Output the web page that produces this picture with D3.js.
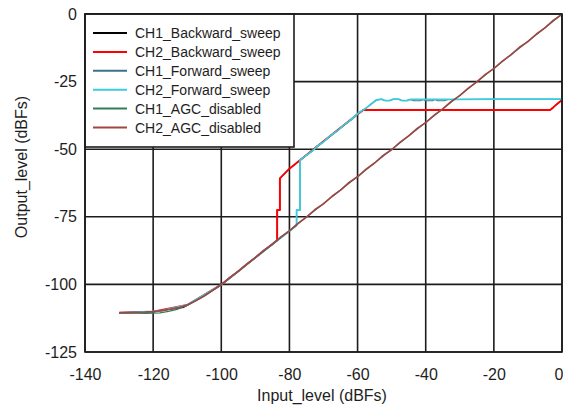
<!DOCTYPE html>
<html><head><meta charset="utf-8">
<script src="https://cdn.jsdelivr.net/npm/d3@7"></script>
<style>body{margin:0;background:#fff}svg{display:block}text{font-family:"Liberation Sans",Arial,sans-serif;fill:#1e1e1e}</style>
</head><body><svg id="c" width="563" height="408"></svg>
<script>
const seriesNames = ["CH1_Backward_sweep","CH2_Backward_sweep","CH1_Forward_sweep","CH2_Forward_sweep","CH1_AGC_disabled","CH2_AGC_disabled"];
const seriesColors = ["#000000","#ff0000","#3d7284","#3ccbdb","#347d58","#a24545"];
const xTicks = [-140,-120,-100,-80,-60,-40,-20,0];
const yTicks = [0,-25,-50,-75,-100,-125];

const ch1Backward = [[-130,-110.6],[-120,-110.1],[-114,-109.0],[-111,-108.5],[-108,-106.3],[-100,-100.1],[-90,-90.1],[-83.6,-83.7],[-83.6,-72.5],[-82.8,-72.5],[-82.8,-60.8],[-80,-57.2],[-58.4,-35.5],[-3.5,-35.5],[-2.8,-35.0],[-2.5,-34.4],[-2,-33.9],[0,-31.8]];
const ch2Backward = [[-130,-110.5],[-120,-110.1],[-110,-107.6],[-100,-100.1],[-90,-90.1],[-83.6,-83.7],[-83.6,-72.5],[-82.8,-72.5],[-82.8,-60.8],[-80,-57.2],[-70,-47.1],[-60,-37.1],[-58.3,-35.5],[-3.5,-35.5],[-2.8,-34.8],[-2,-33.9],[-1,-32.8],[0,-31.8]];
const ch1Forward = [[-130,-110.5],[-120,-110.0],[-117,-109.6],[-110,-107.6],[-100,-100.1],[-90,-90.1],[-77.9,-78.2],[-77.9,-72.5],[-76.9,-72.5],[-76.9,-54.0],[-75,-52.2],[-73,-50.4],[-72,-49.0],[-70,-47.3],[-68,-45.0],[-66,-43.3],[-64,-41.0],[-62,-39.2],[-61,-38.0],[-59.5,-36.4],[-57.5,-34.8],[-56,-33.3],[-54.5,-31.8],[-53,-31.5],[-52,-32.0],[-50.5,-32.0],[-49.5,-31.5],[-48,-31.5],[-47,-32.0],[-45.5,-32.0],[-44.5,-31.6],[-43.5,-32.1],[-41.5,-32.1],[-40.8,-31.6],[-40,-32.1],[-38,-32.1],[-37.3,-31.6],[-36.5,-32.1],[-34.5,-32.1],[-33.5,-31.6],[-33,-31.6],[-31,-31.6],[-20,-31.5],[0,-31.5]];
const ch2Forward = [[-130,-110.5],[-120,-110.0],[-117,-109.6],[-110,-107.6],[-100,-100.1],[-90,-90.1],[-77.9,-78.2],[-77.9,-72.5],[-76.9,-72.5],[-76.9,-54.0],[-75,-52.2],[-73,-50.4],[-72,-49.0],[-70,-47.3],[-68,-45.0],[-66,-43.3],[-64,-41.0],[-62,-39.2],[-61,-38.0],[-59.5,-36.4],[-57.5,-34.8],[-56,-33.3],[-54.5,-31.8],[-53,-31.5],[-52,-32.0],[-50.5,-32.0],[-49.5,-31.5],[-48,-31.5],[-47,-32.0],[-45.5,-32.0],[-44.5,-31.6],[-33,-31.6],[-31,-31.6],[-20,-31.5],[0,-31.5]];
const ch1Agc = [[-130,-110.5],[-126,-110.6],[-122,-110.7],[-118,-110.5],[-115.5,-110.0],[-113,-109.2],[-110,-107.7],[-105,-104.3],[-100,-100.1],[0,-0.1]];
const ch2Agc = [[-130,-110.5],[-127.5,-110.4],[-125,-110.3],[-122.5,-110.2],[-120,-110.0],[-117.5,-109.7],[-115,-109.2],[-112.5,-108.6],[-110,-107.6],[-107.5,-106.1],[-105,-104.3],[-102.5,-102.2],[-100,-100.1],[-97.5,-97.4],[-95,-95.2],[-92.5,-92.4],[-90,-90.1],[-87.5,-87.3],[-85,-85.2],[-82.5,-82.4],[-80,-80.2],[-77.5,-77.4],[-75,-75.1],[-72.5,-72.3],[-70,-70.2],[-67.5,-67.4],[-65,-65.1],[-62.5,-62.3],[-60,-60.2],[-57.5,-57.4],[-55,-55.1],[-52.5,-52.3],[-50,-50.2],[-47.5,-47.4],[-45,-45.1],[-42.5,-42.3],[-40,-40.2],[-37.5,-37.4],[-35,-35.1],[-32.5,-32.3],[-30,-30.2],[-27.5,-27.4],[-25,-25.1],[-22.5,-22.3],[-20,-20.2],[-17.5,-17.4],[-15,-15.1],[-12.5,-12.3],[-10,-10.2],[-7.5,-7.4],[-5,-5.1],[-2.5,-2.3],[0,-0.1]];
const seriesData = [ch1Backward, ch2Backward, ch1Forward, ch2Forward, ch1Agc, ch2Agc];
const seriesWidths = [1.1, 1.9, 1.1, 1.8, 1.3, 1.6];

const L = 85, R = 562, T = 14, B = 352;
const x = d3.scaleLinear().domain([-140,0]).range([L,R]);
const y = d3.scaleLinear().domain([-125,0]).range([B,T]);
const svg = d3.select("#c");
const gridCol = "#1c1c1c";
const fmt = d => String(d);

svg.append("defs").append("clipPath").attr("id","clip").append("rect")
  .attr("x",L).attr("y",T).attr("width",R-L).attr("height",B-T);

// grid
const g = svg.append("g");
g.selectAll(".vx").data(xTicks).join("line")
  .attr("x1",d=>x(d)).attr("x2",d=>x(d)).attr("y1",T).attr("y2",B)
  .attr("stroke",gridCol).attr("stroke-width",1.6);
g.selectAll(".hy").data(yTicks).join("line")
  .attr("y1",d=>y(d)).attr("y2",d=>y(d)).attr("x1",L).attr("x2",R)
  .attr("stroke",gridCol).attr("stroke-width",1.6);

// axes labels via d3 axes
const xAxis = svg.append("g").attr("transform",`translate(0,${B})`)
  .call(d3.axisBottom(x).tickValues(xTicks).tickSize(0).tickPadding(17).tickFormat(fmt));
xAxis.select(".domain").remove();
xAxis.selectAll("text").attr("font-size",16).style("font-family","'Liberation Sans',Arial,sans-serif").attr("fill","#1e1e1e");
xAxis.selectAll(".tick").filter(d=>d===0).select("text").attr("text-anchor","end").attr("x",563-x(0));
const yAxis = svg.append("g").attr("transform",`translate(${L},0)`)
  .call(d3.axisLeft(y).tickValues(yTicks).tickSize(0).tickPadding(8).tickFormat(fmt));
yAxis.select(".domain").remove();
yAxis.selectAll("text").attr("font-size",16).style("font-family","'Liberation Sans',Arial,sans-serif").attr("fill","#1e1e1e");

// lines
const line = d3.line().x(d=>x(d[0])).y(d=>y(d[1]));
svg.append("g").attr("clip-path","url(#clip)").selectAll("path").data(seriesData).join("path")
  .attr("d",line).attr("fill","none").attr("stroke",(d,i)=>seriesColors[i])
  .attr("stroke-width",(d,i)=>seriesWidths[i]).attr("stroke-linejoin","round");

// legend
const lg = svg.append("g");
lg.append("rect").attr("x",L).attr("y",T).attr("width",294-L).attr("height",147-T)
  .attr("fill","#fff").attr("stroke",gridCol).attr("stroke-width",1.6);
const rows = lg.selectAll(".row").data(seriesNames).join("g")
  .attr("transform",(d,i)=>`translate(0,${33+i*18.9})`);
rows.append("line").attr("x1",93).attr("x2",127).attr("stroke",(d,i)=>seriesColors[i]).attr("stroke-width",2);
rows.append("text").attr("x",135).attr("y",5).attr("font-size",14).text(d=>d);

// border
svg.append("rect").attr("x",L).attr("y",T).attr("width",R-L).attr("height",B-T)
  .attr("fill","none").attr("stroke",gridCol).attr("stroke-width",1.6);

// titles
svg.append("text").attr("x",322).attr("y",401).attr("text-anchor","middle").attr("font-size",16).text("Input_level (dBFs)");
svg.append("text").attr("transform","translate(26.5,167) rotate(-90)").attr("text-anchor","middle").attr("font-size",16).text("Output_level (dBFs)");
</script></body></html>
